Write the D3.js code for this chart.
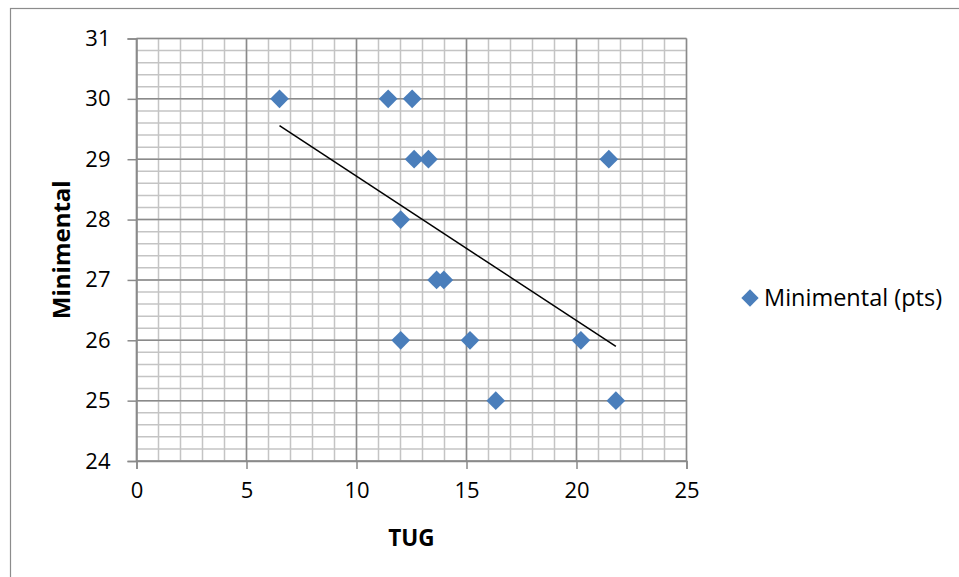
<!DOCTYPE html>
<html><head><meta charset="utf-8">
<script src="https://cdn.jsdelivr.net/npm/d3@7"></script>
<style>body{margin:0;background:#fff} svg{display:block}</style>
</head><body>
<svg id="c" width="959" height="577"></svg>
<script>
const tugValues  = [6.5, 11.44, 12.53, 12.62, 13.27, 21.47, 12.01, 13.64, 13.97, 12.01, 15.16, 20.2, 16.33, 21.79];
const miniValues = [30, 30, 30, 29, 29, 29, 28, 27, 27, 26, 26, 26, 25, 25];
const xTicks = [0, 5, 10, 15, 20, 25];
const yTicks = [24, 25, 26, 27, 28, 29, 30, 31];
const seriesName = "Minimental (pts)";
const xTitle = "TUG";
const yTitle = "Minimental";

const FONT = "'Open Sans', sans-serif";
const svg = d3.select("#c");
const W = 959, H = 577;
const x = d3.scaleLinear().domain([0, 25]).range([136.5, 686.5]);
const y = d3.scaleLinear().domain([24, 31]).range([461, 38.5]);

// outer border
svg.append("rect").attr("x", 10.5).attr("y", 8.5).attr("width", W + 10).attr("height", H + 10)
  .attr("fill", "none").attr("stroke", "#8c8c8c").attr("stroke-width", 1.2);

const g = svg.append("g");
const minorX = d3.range(0, 25.001, 1);
const minorY = d3.range(24, 31.001, 0.2);
const MINOR = "#c4c4c4", MAJOR = "#8a8a8a";

g.selectAll("line.mx").data(minorX).join("line")
  .attr("x1", d => x(d)).attr("x2", d => x(d)).attr("y1", y(31)).attr("y2", y(24))
  .attr("stroke", MINOR).attr("stroke-width", 1.5);
g.selectAll("line.my").data(minorY).join("line")
  .attr("y1", d => y(d)).attr("y2", d => y(d)).attr("x1", x(0)).attr("x2", x(25))
  .attr("stroke", MINOR).attr("stroke-width", 1.5);
g.selectAll("line.Mx").data(xTicks).join("line")
  .attr("x1", d => x(d)).attr("x2", d => x(d)).attr("y1", y(31)).attr("y2", y(24))
  .attr("stroke", MAJOR).attr("stroke-width", 1.5);
g.selectAll("line.My").data(yTicks).join("line")
  .attr("y1", d => y(d)).attr("y2", d => y(d)).attr("x1", x(0)).attr("x2", x(25))
  .attr("stroke", MAJOR).attr("stroke-width", 1.5);

// axes
const xAxis = d3.axisBottom(x).tickValues(xTicks).tickSize(8).tickPadding(13).tickFormat(d3.format("d"));
const yAxis = d3.axisLeft(y).tickValues(yTicks).tickSize(9).tickPadding(17).tickFormat(d3.format("d"));
const gx = svg.append("g").attr("transform", `translate(0,${y(24)})`).call(xAxis);
const gy = svg.append("g").attr("transform", `translate(${x(0)},0)`).call(yAxis);
[gx, gy].forEach(a => {
  a.select(".domain").attr("stroke", MAJOR).attr("stroke-width", 1.5);
  a.selectAll(".tick line").attr("stroke", MAJOR).attr("stroke-width", 1.5);
  a.selectAll(".tick text").attr("font-family", FONT).attr("font-size", 22).attr("fill", "#000");
});

// trendline (least squares)
const n = tugValues.length;
const mx = d3.mean(tugValues), my = d3.mean(miniValues);
let sxy = 0, sxx = 0;
for (let i = 0; i < n; i++) { sxy += (tugValues[i]-mx)*(miniValues[i]-my); sxx += (tugValues[i]-mx)**2; }
const slope = sxy / sxx, icpt = my - slope * mx;
const [xmin, xmax] = d3.extent(tugValues);
svg.append("line")
  .attr("x1", x(xmin)).attr("y1", y(icpt + slope*xmin))
  .attr("x2", x(xmax)).attr("y2", y(icpt + slope*xmax))
  .attr("stroke", "#000").attr("stroke-width", 1.5);

// points
const sym = d3.symbol().type(d3.symbolSquare).size(175);
const pts = tugValues.map((v, i) => ({x: v, y: miniValues[i]}));
svg.selectAll("path.pt").data(pts).join("path")
  .attr("d", sym)
  .attr("transform", d => `translate(${x(d.x)},${y(d.y)}) rotate(45)`)
  .attr("fill", "#4a7ebb");

// axis titles
svg.append("text").attr("x", (x(0)+x(25))/2).attr("y", 546)
  .attr("text-anchor", "middle").attr("font-family", FONT).attr("font-weight", "bold")
  .attr("font-size", 22.5).text(xTitle);
svg.append("text").attr("transform", `translate(70,${(y(24)+y(31))/2}) rotate(-90)`)
  .attr("text-anchor", "middle").attr("font-family", FONT).attr("font-weight", "bold")
  .attr("font-size", 24).text(yTitle);

// legend
const lg = svg.append("g").attr("transform", "translate(750,298)");
lg.append("path").attr("d", d3.symbol().type(d3.symbolSquare).size(150)).attr("transform", "rotate(45)").attr("fill", "#4a7ebb");
lg.append("text").attr("x", 14).attr("y", 0).attr("dy", "0.35em")
  .attr("font-family", FONT).attr("font-size", 23.5).attr("fill", "#000").text(seriesName);
</script>
</body></html>
